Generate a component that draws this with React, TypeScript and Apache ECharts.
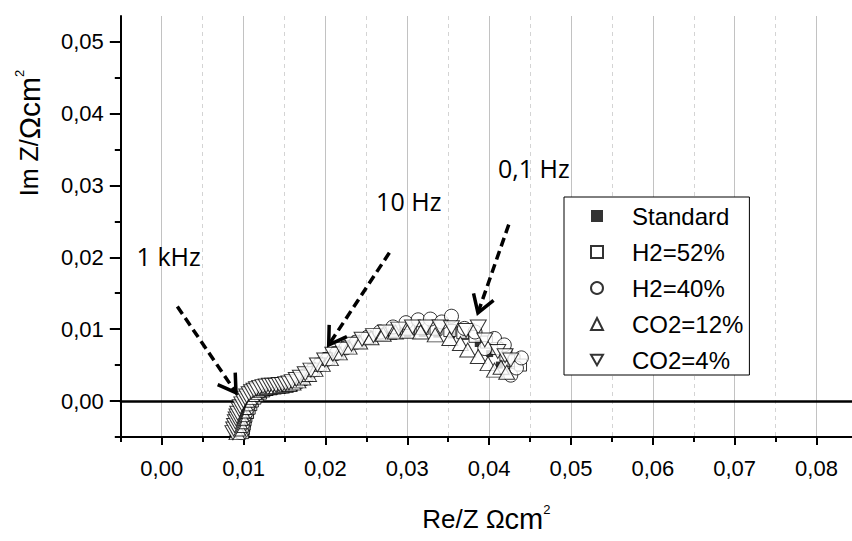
import React, { useEffect, useRef } from "react";
import * as echarts from "echarts";

// ---------- data (Re/Z, Im Z in Ω·cm²) ----------
const seriesNames = ["Standard", "H2=52%", "H2=40%", "CO2=12%", "CO2=4%"];

const standardData = [
  [0.0104, -0.0044], [0.0105, -0.0038], [0.0106, -0.0032], [0.0107, -0.0026], [0.0109, -0.0020],
  [0.0110, -0.0014], [0.0112, -0.0008], [0.0114, -0.0003], [0.0117, 0.0002], [0.0120, 0.0006],
  [0.0124, 0.0009], [0.0128, 0.0012], [0.0133, 0.0014], [0.0138, 0.0016], [0.0143, 0.0017],
  [0.0148, 0.0018], [0.0153, 0.0019], [0.0158, 0.0021], [0.0164, 0.0024], [0.0170, 0.0028],
  [0.0177, 0.0033], [0.0185, 0.0040], [0.0194, 0.0047], [0.0204, 0.0055], [0.0215, 0.0063],
  [0.0227, 0.0071], [0.0240, 0.0078], [0.0254, 0.0084], [0.0270, 0.0089], [0.0286, 0.0090],
  [0.0303, 0.0093], [0.0321, 0.0094], [0.0339, 0.0093], [0.0357, 0.0092], [0.0374, 0.0090],
  [0.0390, 0.0080], [0.0404, 0.0066], [0.0416, 0.0050], [0.0426, 0.0040],
];

const h2_52Data = [
  [0.0100, -0.0044], [0.0101, -0.0038], [0.0102, -0.0032], [0.0103, -0.0026], [0.0104, -0.0021],
  [0.0106, -0.0016], [0.0108, -0.0010], [0.0110, -0.0005], [0.0112, 0.0000], [0.0115, 0.0004],
  [0.0118, 0.0008], [0.0122, 0.0011], [0.0126, 0.0014], [0.0130, 0.0016], [0.0135, 0.0017],
  [0.0140, 0.0018], [0.0145, 0.0019], [0.0150, 0.0020], [0.0155, 0.0021], [0.0160, 0.0023],
  [0.0166, 0.0026], [0.0172, 0.0030], [0.0179, 0.0036], [0.0187, 0.0043], [0.0196, 0.0051],
  [0.0206, 0.0059], [0.0217, 0.0067], [0.0229, 0.0075], [0.0242, 0.0082], [0.0256, 0.0088],
  [0.0271, 0.0093], [0.0287, 0.0097], [0.0304, 0.0100], [0.0321, 0.0101], [0.0338, 0.0100],
  [0.0355, 0.0098], [0.0371, 0.0095], [0.0386, 0.0090], [0.0400, 0.0082], [0.0413, 0.0073],
  [0.0424, 0.0064], [0.0434, 0.0056], [0.0442, 0.0050],
];

const h2_40Data = [
  [0.0098, -0.0044], [0.0099, -0.0038], [0.0100, -0.0032], [0.0101, -0.0026], [0.0102, -0.0021],
  [0.0104, -0.0016], [0.0106, -0.0010], [0.0108, -0.0004], [0.0110, 0.0001], [0.0113, 0.0005],
  [0.0116, 0.0009], [0.0120, 0.0012], [0.0124, 0.0015], [0.0128, 0.0017], [0.0133, 0.0018],
  [0.0138, 0.0019], [0.0143, 0.0020], [0.0148, 0.0020], [0.0153, 0.0021], [0.0158, 0.0023],
  [0.0164, 0.0026], [0.0170, 0.0030], [0.0177, 0.0035], [0.0185, 0.0042], [0.0194, 0.0050],
  [0.0204, 0.0058], [0.0215, 0.0066], [0.0227, 0.0074], [0.0240, 0.0082], [0.0254, 0.0089],
  [0.0269, 0.0096], [0.0285, 0.0103], [0.0301, 0.0109], [0.0316, 0.0113], [0.0331, 0.0114],
  [0.0345, 0.0110], [0.0357, 0.0118], [0.0373, 0.0101], [0.0386, 0.0096], [0.0398, 0.0073],
  [0.0410, 0.0087], [0.0422, 0.0078], [0.0430, 0.0036], [0.0437, 0.0046], [0.0443, 0.0060],
];

const co2_12Data = [
  [0.0093, -0.0044], [0.0094, -0.0039], [0.0095, -0.0034], [0.0096, -0.0029], [0.0097, -0.0024],
  [0.0098, -0.0019], [0.0099, -0.0014], [0.0101, -0.0009], [0.0103, -0.0004], [0.0105, 0.0001],
  [0.0108, 0.0005], [0.0111, 0.0009], [0.0114, 0.0012], [0.0118, 0.0015], [0.0122, 0.0017],
  [0.0127, 0.0018], [0.0132, 0.0019], [0.0137, 0.0020], [0.0142, 0.0020], [0.0147, 0.0021],
  [0.0152, 0.0022], [0.0157, 0.0023], [0.0162, 0.0025], [0.0168, 0.0028], [0.0174, 0.0032],
  [0.0181, 0.0037], [0.0189, 0.0044], [0.0198, 0.0051], [0.0208, 0.0059], [0.0219, 0.0067],
  [0.0231, 0.0075], [0.0244, 0.0082], [0.0258, 0.0088], [0.0273, 0.0093], [0.0288, 0.0096],
  [0.0303, 0.0097], [0.0319, 0.0096], [0.0337, 0.0092], [0.0355, 0.0087], [0.0368, 0.0080],
  [0.0377, 0.0071], [0.0390, 0.0062], [0.0402, 0.0052], [0.0410, 0.0043], [0.0418, 0.0047],
  [0.0425, 0.0040],
];

const co2_4Data = [
  [0.0088, -0.0044], [0.0089, -0.0039], [0.0090, -0.0034], [0.0091, -0.0029], [0.0092, -0.0025],
  [0.0093, -0.0021], [0.0094, -0.0017], [0.0096, -0.0012], [0.0097, -0.0008], [0.0099, -0.0004],
  [0.0101, 0.0000], [0.0103, 0.0004], [0.0105, 0.0007], [0.0108, 0.0010], [0.0111, 0.0013],
  [0.0114, 0.0015], [0.0117, 0.0017], [0.0121, 0.0019], [0.0125, 0.0020], [0.0129, 0.0021],
  [0.0133, 0.0022], [0.0137, 0.0022], [0.0141, 0.0022], [0.0145, 0.0023], [0.0149, 0.0023],
  [0.0153, 0.0024], [0.0157, 0.0025], [0.0161, 0.0027], [0.0166, 0.0030], [0.0171, 0.0033],
  [0.0177, 0.0038], [0.0184, 0.0043], [0.0192, 0.0050], [0.0201, 0.0057], [0.0211, 0.0065],
  [0.0222, 0.0072], [0.0234, 0.0079], [0.0247, 0.0086], [0.0261, 0.0091], [0.0276, 0.0096],
  [0.0292, 0.0100], [0.0309, 0.0103], [0.0326, 0.0103], [0.0343, 0.0103], [0.0357, 0.0102],
  [0.0375, 0.0098], [0.0390, 0.0103], [0.0398, 0.0085], [0.0414, 0.0069], [0.0423, 0.0063],
  [0.0430, 0.0057],
];

// frequency annotations (data coordinates)
const noteTexts = ["1 kHz", "10 Hz", "0,1 Hz"];
const notePositions = [[0.00089, 0.02022], [0.03044, 0.02789], [0.04585, 0.03236]];
const arrowStarts = [[0.00196, 0.01315], [0.02806, 0.02064], [0.04275, 0.02455]];
const arrowTips = [[0.00918, 0.00116], [0.02059, 0.00781], [0.03896, 0.01227]];

// ---------- layout ----------
const L0 = 120.8; // pixel of x = -0.005
const X0PX = 161.7; // pixel of x = 0
const KX = 8185; // px per unit x
const T0 = 16; // top of plot
const Y0PX = 401; // pixel of y = 0
const KY = 7186; // px per unit y
const BOTTOM = Y0PX + 0.005 * KY;

const FONT_SANS = "'Liberation Sans', Arial, sans-serif";
const FONT_NOTE = "'Open Sans', 'Noto Sans', sans-serif";

const INV_TRI = "path://M0,0L16,0L8,14Z";

const fmt = (v: number) => v.toFixed(2).replace(".", ",");

export default function App() {
  const ref = useRef<HTMLDivElement>(null);

  useEffect(() => {
    if (!ref.current) return;
    const chart = echarts.init(ref.current, null, { renderer: "svg" });

    const markerStyle = { color: "#fff", borderColor: "#000", borderWidth: 1 };

    const option: any = {
      animation: false,
      backgroundColor: "#fff",
      grid: [
        { left: L0, top: T0, width: 0.09 * KX, height: BOTTOM - T0 },
        { left: X0PX, top: T0, width: 0.08 * KX, height: BOTTOM - T0 },
        { left: L0, top: T0, width: 0.08 * KX, height: BOTTOM - T0 },
        { left: L0, top: Y0PX - 0.05 * KY, width: 0.09 * KX, height: 0.05 * KY },
        { left: L0, top: Y0PX - 0.045 * KY, width: 100, height: 0.05 * KY },
      ],
      xAxis: [
        {
          gridIndex: 0, type: "value", min: -0.005, max: 0.085,
          axisLine: { show: true, onZero: false, lineStyle: { color: "#000", width: 2 } },
          axisTick: { show: false }, axisLabel: { show: false }, splitLine: { show: false },
          name: "{a|Re/Z }{b|Ω}{c|cm}{d|2}",
          nameLocation: "middle",
          nameGap: 66,
          nameTextStyle: {
            color: "#000",
            rich: {
              a: { fontSize: 26, fontFamily: FONT_SANS, color: "#000", lineHeight: 32 },
              b: { fontSize: 25, fontFamily: FONT_SANS, color: "#000", lineHeight: 32 },
              c: { fontSize: 29, fontFamily: FONT_SANS, color: "#000", lineHeight: 32 },
              d: { fontSize: 13, fontFamily: FONT_SANS, color: "#000", lineHeight: 32, verticalAlign: "top" },
            },
          },
        },
        {
          gridIndex: 1, type: "value", min: 0, max: 0.08, interval: 0.01,
          axisLine: { show: false, onZero: false },
          axisTick: { show: true, length: 8, lineStyle: { color: "#000", width: 2 } },
          axisLabel: { formatter: fmt, fontSize: 22, fontFamily: FONT_SANS, color: "#000", margin: 21 },
          splitLine: { show: true, lineStyle: { color: "#c2c2c2", width: 1 } },
        },
        {
          gridIndex: 2, type: "value", min: -0.005, max: 0.075, interval: 0.01,
          axisLine: { show: false, onZero: false },
          axisTick: { show: true, length: 5, lineStyle: { color: "#000", width: 2 } },
          axisLabel: { show: false },
          splitLine: { show: true, lineStyle: { color: "#d4d4d4", width: 1, type: [4, 4] } },
        },
        {
          gridIndex: 3, type: "value", min: -0.005, max: 0.085,
          axisLine: { show: true, onZero: false, lineStyle: { color: "#000", width: 2.5 } },
          axisTick: { show: false }, axisLabel: { show: false }, splitLine: { show: false },
        },
        { gridIndex: 4, type: "value", show: false, min: 0, max: 1 },
      ],
      yAxis: [
        {
          gridIndex: 0, type: "value", min: -0.005, max: (Y0PX - T0) / KY,
          axisLine: { show: true, onZero: false, lineStyle: { color: "#000", width: 2 } },
          axisTick: { show: false }, axisLabel: { show: false }, splitLine: { show: false },
        },
        { gridIndex: 1, type: "value", show: false, min: 0, max: 1 },
        { gridIndex: 2, type: "value", show: false, min: 0, max: 1 },
        {
          gridIndex: 3, type: "value", min: 0, max: 0.05, interval: 0.01,
          axisLine: { show: false, onZero: false },
          axisTick: { show: true, length: 11, lineStyle: { color: "#000", width: 2 } },
          axisLabel: { formatter: fmt, fontSize: 22, fontFamily: FONT_SANS, color: "#000", margin: 17 },
          splitLine: { show: false },
        },
        {
          gridIndex: 4, type: "value", min: -0.005, max: 0.045, interval: 0.01,
          axisLine: { show: false, onZero: false },
          axisTick: { show: true, length: 6, lineStyle: { color: "#000", width: 2 } },
          axisLabel: { show: false }, splitLine: { show: false },
        },
      ],
      legend: {
        orient: "vertical",
        left: 564,
        top: 197,
        backgroundColor: "#fff",
        borderColor: "#000",
        borderWidth: 1,
        borderRadius: 0,
        padding: [4, 6, 0, 26],
        itemGap: 6,
        itemWidth: 12,
        itemHeight: 12,
        selectedMode: false,
        textStyle: {
          fontSize: 24, fontFamily: FONT_SANS, color: "#000", lineHeight: 30,
          padding: [0, 0, 0, 24],
        },
        data: [
          { name: seriesNames[0], icon: "rect" },
          { name: seriesNames[1], icon: "rect" },
          { name: seriesNames[2], icon: "circle" },
          { name: seriesNames[3], icon: "triangle" },
          { name: seriesNames[4], icon: INV_TRI },
        ],
      },
      series: [
        {
          name: seriesNames[0], type: "scatter", xAxisIndex: 0, yAxisIndex: 0,
          symbol: "rect", symbolSize: 7, itemStyle: { color: "#000" }, data: standardData,
        },
        {
          name: seriesNames[1], type: "scatter", xAxisIndex: 0, yAxisIndex: 0,
          symbol: "rect", symbolSize: 12, itemStyle: markerStyle, data: h2_52Data,
        },
        {
          name: seriesNames[2], type: "scatter", xAxisIndex: 0, yAxisIndex: 0,
          symbol: "circle", symbolSize: 14, itemStyle: markerStyle, data: h2_40Data,
        },
        {
          name: seriesNames[3], type: "scatter", xAxisIndex: 0, yAxisIndex: 0,
          symbol: "triangle", symbolSize: [16, 14], itemStyle: markerStyle, data: co2_12Data,
        },
        {
          name: seriesNames[4], type: "scatter", xAxisIndex: 0, yAxisIndex: 0,
          symbol: INV_TRI, symbolSize: [16, 14], itemStyle: markerStyle, data: co2_4Data,
        },
      ],
    };

    chart.setOption(option);

    const gfx: any[] = [];
    arrowStarts.forEach((s, i) => {
      const p0 = chart.convertToPixel({ gridIndex: 0 }, s) as number[];
      const p1 = chart.convertToPixel({ gridIndex: 0 }, arrowTips[i]) as number[];
      const dx = p1[0] - p0[0];
      const dy = p1[1] - p0[1];
      const len = Math.hypot(dx, dy);
      const bx = -dx / len;
      const by = -dy / len;
      const Lw = 20;
      const th = (32 * Math.PI) / 180;
      const rot = (a: number) => [
        p1[0] + Lw * (bx * Math.cos(a) - by * Math.sin(a)),
        p1[1] + Lw * (bx * Math.sin(a) + by * Math.cos(a)),
      ];
      gfx.push({
        type: "line", silent: true, z: 50,
        shape: { x1: p0[0], y1: p0[1], x2: p1[0] + bx * 3, y2: p1[1] + by * 3 },
        style: { stroke: "#000", lineWidth: 3.5, lineDash: [9, 5] },
      });
      gfx.push({
        type: "polyline", silent: true, z: 50,
        shape: { points: [rot(th), p1, rot(-th)] },
        style: { stroke: "#000", lineWidth: 3.5, fill: null, lineJoin: "miter" },
      });
    });
    noteTexts.forEach((t, i) => {
      const p = chart.convertToPixel({ gridIndex: 0 }, notePositions[i]) as number[];
      gfx.push({
        type: "text", silent: true, z: 50, x: p[0], y: p[1],
        style: {
          text: t, fill: "#000", fontSize: 25, fontFamily: FONT_NOTE,
          align: "center", verticalAlign: "middle",
          textAlign: "center", textVerticalAlign: "middle",
        },
      });
    });
    gfx.push({
      type: "text", silent: true, z: 50, x: 29, y: 133, rotation: Math.PI / 2,
      style: {
        text: "{a|Im Z/}{b|Ω}{c|cm}{d|2}",
        align: "center", verticalAlign: "middle",
        textAlign: "center", textVerticalAlign: "middle",
        fill: "#000",
        rich: {
          a: { fontSize: 25, fontFamily: FONT_SANS, fill: "#000", lineHeight: 32 },
          b: { fontSize: 30, fontFamily: FONT_SANS, fill: "#000", lineHeight: 32 },
          c: { fontSize: 30, fontFamily: FONT_SANS, fill: "#000", lineHeight: 32 },
          d: { fontSize: 13, fontFamily: FONT_SANS, fill: "#000", lineHeight: 32, verticalAlign: "top" },
        },
      },
    });
    chart.setOption({ graphic: gfx });

    return () => chart.dispose();
  }, []);

  return (
    <div
      ref={ref}
      style={{ position: "fixed", left: 0, top: 0, width: 852, height: 541, background: "#fff" }}
    />
  );
}
